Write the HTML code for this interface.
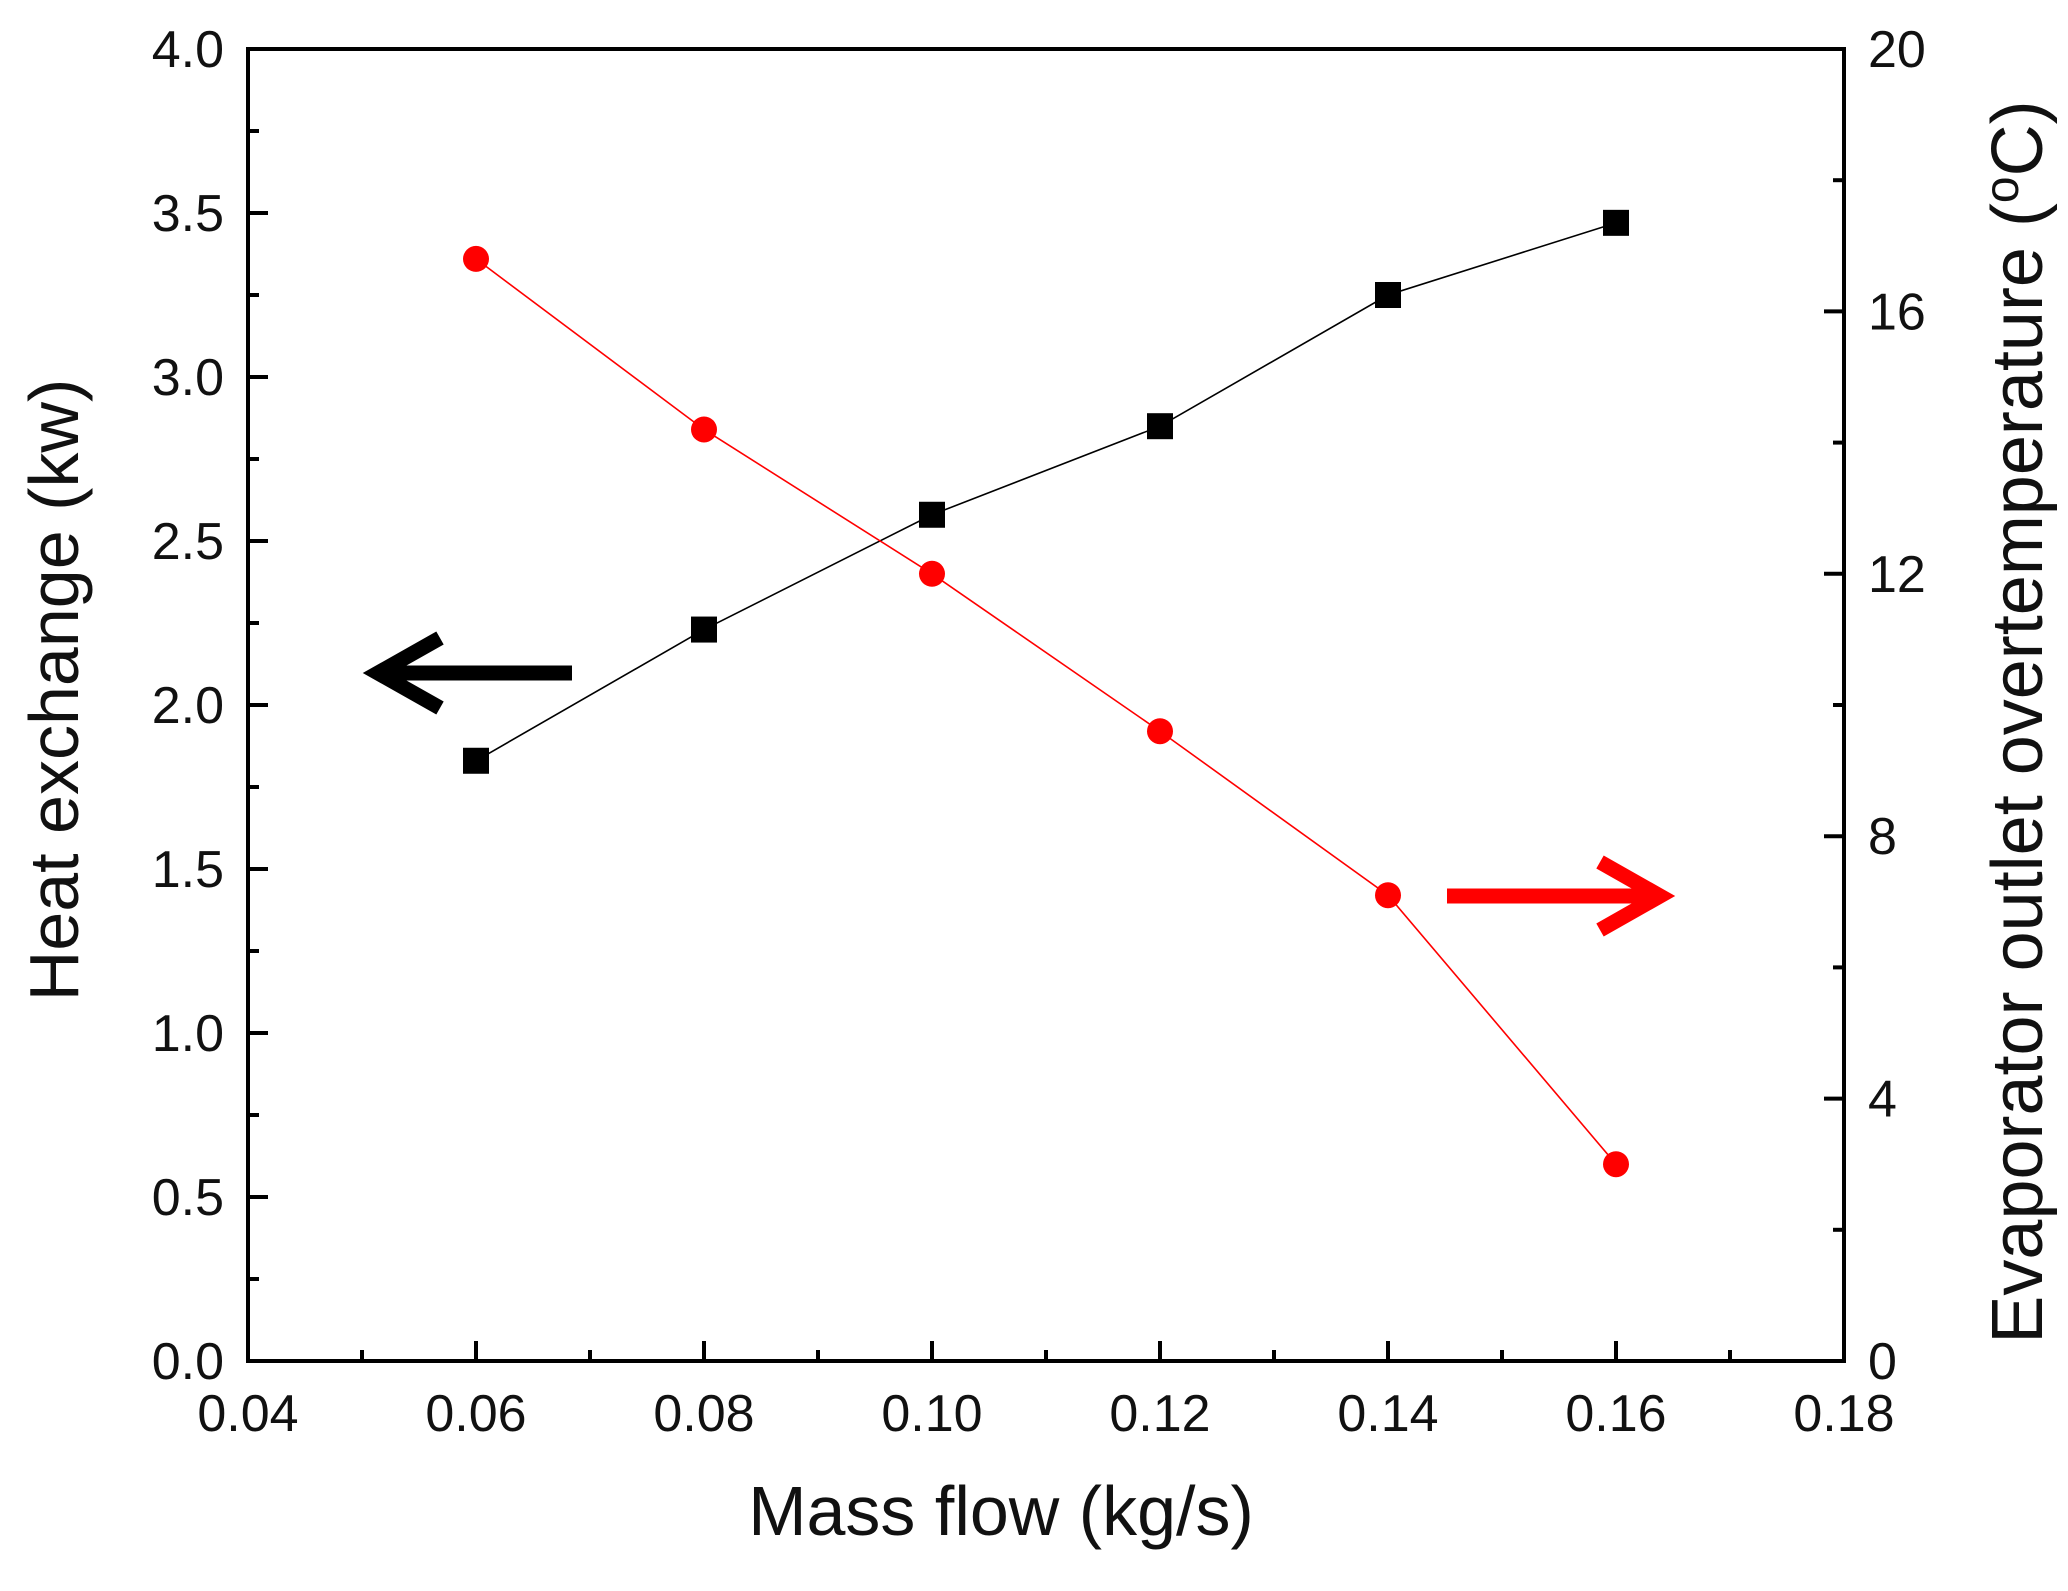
<!DOCTYPE html>
<html><head><meta charset="utf-8"><style>
html,body{margin:0;padding:0;background:#fff;}
svg{display:block;font-family:"Liberation Sans",Arial,sans-serif;}
</style></head><body>
<svg id="chart" width="2068" height="1591" viewBox="0 0 2068 1591" xmlns="http://www.w3.org/2000/svg">
<rect width="2068" height="1591" fill="#fff"/>
<g id="g"></g>
</svg>
<script>
const xTicks=[0.04,0.06,0.08,0.10,0.12,0.14,0.16,0.18];
const xTickLabels=["0.04","0.06","0.08","0.10","0.12","0.14","0.16","0.18"];
const yLeftTicks=[0,0.5,1,1.5,2,2.5,3,3.5,4];
const yLeftLabels=["0.0","0.5","1.0","1.5","2.0","2.5","3.0","3.5","4.0"];
const yRightTicks=[0,4,8,12,16,20];
const massFlow=[0.06,0.08,0.10,0.12,0.14,0.16];
const heatExchange=[1.83,2.23,2.58,2.85,3.25,3.47];
const overTemp=[16.8,14.2,12.0,9.6,7.1,3.0];

const L=248,R=1844,T=49,B=1361;
const xS=v=>L+(v-0.04)/(0.14)*(R-L);
const yL=v=>B-v/4*(B-T);
const yR=v=>B-v/20*(B-T);
const NS="http://www.w3.org/2000/svg";
const g=document.getElementById('g');
function mk(tag,attrs,parent){const e=document.createElementNS(NS,tag);for(const k in attrs)e.setAttribute(k,attrs[k]);(parent||g).appendChild(e);return e;}

const frame=mk('rect',{x:L,y:T,width:R-L,height:B-T,fill:'none',stroke:'#000','stroke-width':4});



for(let i=0;i<xTicks.length;i++){
  const x=xS(xTicks[i]);
  const t=mk('line',{x1:x,x2:x,y1:B,y2:B-20,stroke:'#000','stroke-width':4});
  
  
  if(i<xTicks.length-1){const xm=xS((xTicks[i]+xTicks[i+1])/2);
    const m=mk('line',{x1:xm,x2:xm,y1:B,y2:B-11,stroke:'#000','stroke-width':4});
    
    }
  const lb=mk('text',{x:x,y:B+70,'text-anchor':'middle','font-size':52,fill:'#111'});
  lb.textContent=xTickLabels[i];
  
  
}
for(let i=0;i<yLeftTicks.length;i++){
  const y=yL(yLeftTicks[i]);
  const t=mk('line',{x1:L,x2:L+20,y1:y,y2:y,stroke:'#000','stroke-width':4});
  
  
  if(i<yLeftTicks.length-1){const ym=yL((yLeftTicks[i]+yLeftTicks[i+1])/2);
    const m=mk('line',{x1:L,x2:L+11,y1:ym,y2:ym,stroke:'#000','stroke-width':4});
    
    }
  const lb=mk('text',{x:L-24,y:y+18,'text-anchor':'end','font-size':52,fill:'#111'});
  lb.textContent=yLeftLabels[i];
  
  
}
for(let i=0;i<yRightTicks.length;i++){
  const y=yR(yRightTicks[i]);
  const t=mk('line',{x1:R,x2:R-20,y1:y,y2:y,stroke:'#000','stroke-width':4});
  
  
  if(i<yRightTicks.length-1){const ym=yR((yRightTicks[i]+yRightTicks[i+1])/2);
    const m=mk('line',{x1:R,x2:R-11,y1:ym,y2:ym,stroke:'#000','stroke-width':4});
    
    }
  const lb=mk('text',{x:R+24,y:y+18,'text-anchor':'start','font-size':52,fill:'#111'});
  lb.textContent=String(yRightTicks[i]);
  
  
}
const xt=mk('text',{x:1001,y:1535,'text-anchor':'middle','font-size':70,fill:'#111'});
xt.textContent='Mass flow (kg/s)';


const yt=mk('text',{x:0,y:0,'text-anchor':'middle','font-size':70,fill:'#111',transform:`translate(78,690) rotate(-90)`});
yt.textContent='Heat exchange (kw)';


const yt2=mk('text',{x:0,y:0,'text-anchor':'middle','font-size':72,fill:'#111',transform:`translate(2042,722) rotate(-90)`});
yt2.innerHTML='Evaporator outlet overtemperature (<tspan font-size="48" dy="-24">o</tspan><tspan dy="24">C)</tspan>';



const blk=mk('polyline',{points:massFlow.map((v,i)=>xS(v)+','+yL(heatExchange[i])).join(' '),fill:'none',stroke:'#000','stroke-width':1.6});


const red=mk('polyline',{points:massFlow.map((v,i)=>xS(v)+','+yR(overTemp[i])).join(' '),fill:'none',stroke:'#f00','stroke-width':1.6});


for(let i=0;i<massFlow.length;i++){
  const s=mk('rect',{x:xS(massFlow[i])-13,y:yL(heatExchange[i])-13,width:26,height:26,fill:'#000'});
  
  
  const c=mk('circle',{cx:xS(massFlow[i]),cy:yR(overTemp[i]),r:13,fill:'#f00'});
  
  
}
const a1=mk('g',{});


mk('line',{x1:572,y1:673,x2:390,y2:673,stroke:'#000','stroke-width':15},a1);
mk('polyline',{points:'440,638 378,673 440,708',fill:'none',stroke:'#000','stroke-width':15,'stroke-linejoin':'miter'},a1);
const a2=mk('g',{});


mk('line',{x1:1447,y1:896,x2:1645,y2:896,stroke:'#f00','stroke-width':15},a2);
mk('polyline',{points:'1600,862 1660,896 1600,930',fill:'none',stroke:'#f00','stroke-width':15},a2);
</script>
</body></html>
